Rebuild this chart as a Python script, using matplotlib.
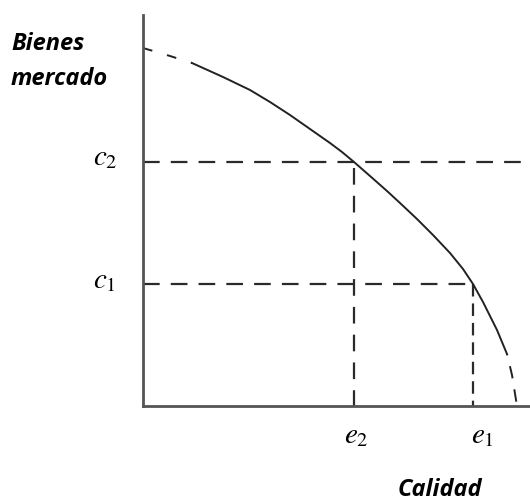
import matplotlib
matplotlib.use("Agg")
import matplotlib.pyplot as plt

plt.rcParams['mathtext.fontset'] = 'stix'
plt.rcParams['lines.scale_dashes'] = False

# Data (arbitrary units; origin at axes corner)
c_levels = [122, 244]          # c1, c2
e_levels = [330, 211]          # e1, e2
curve_x = [0, 27, 49, 80, 107, 127, 147, 167, 187, 199, 211, 227, 244, 257,
           274, 290, 307, 320, 330, 340, 354, 364, 369, 374]
curve_y = [358, 350, 343, 329, 316, 304, 291, 277, 263, 254, 244, 230, 215, 203,
           187, 171, 153, 137, 122, 104, 76, 52, 31, 0]
y_label = ["Bienes", "mercado"]
x_label = "Calidad"
c_labels = [r"$c_1$", r"$c_2$"]
e_labels = [r"$e_1$", r"$e_2$"]

W, H = 530, 503
fig = plt.figure(figsize=(W / 100, H / 100), dpi=100)
ax = fig.add_axes([143 / W, 97 / H, 387 / W, 391 / H])
ax.set_xlim(0, 387)
ax.set_ylim(0, 391)
for s in ['top', 'right']:
    ax.spines[s].set_visible(False)
for s in ['left', 'bottom']:
    ax.spines[s].set_color('#555555')
    ax.spines[s].set_linewidth(2.0)
    ax.spines[s].set_zorder(5)
ax.set_xticks([])
ax.set_yticks([])

dash_col = '#2a2a2a'
dash = (12, 8)
c1, c2 = c_levels
e1, e2 = e_levels
# horizontal dashed lines
ax.plot([0, 387], [c2, c2], color=dash_col, lw=1.6, dashes=dash, clip_on=False)
ax.plot([0, e1], [c1, c1], color=dash_col, lw=1.6, dashes=dash)
# vertical dashed lines
ax.plot([e2, e2], [c2 - 6, 0], color=dash_col, lw=1.6, dashes=dash)
ax.plot([e1, e1], [c1, 0], color=dash_col, lw=1.6, dashes=(9, 5))

# curve: dashed start, solid middle, dashed end
i0, i1 = 2, 21
ax.plot(curve_x[:i0 + 1], curve_y[:i0 + 1], color='#222222', lw=1.4,
        linestyle=(0, (7, 11)))
ax.plot(curve_x[i0:i1 + 1], curve_y[i0:i1 + 1], color='#222222', lw=1.4)
ax.plot(curve_x[i1:], curve_y[i1:], color='#222222', lw=1.4,
        linestyle=(8, (9, 8)))

def ftxt(x, y, s, **kw):
    fig.text(x / W, 1 - y / H, s, va='baseline', **kw)

bold_it = dict(family='Open Sans', weight='bold', style='italic', fontsize=17, color='black')
ftxt(11, 50, y_label[0], **bold_it)
ftxt(11, 85, y_label[1], **bold_it)
ftxt(398, 496, x_label, **bold_it)

mt = dict(fontsize=21, color='black')
ftxt(93, 288, c_labels[0], **mt)
ftxt(93, 165, c_labels[1], **mt)
ftxt(471, 443, e_labels[0], **mt)
ftxt(344, 443, e_labels[1], **mt)

fig.savefig("out.png", dpi=100, facecolor='white')
